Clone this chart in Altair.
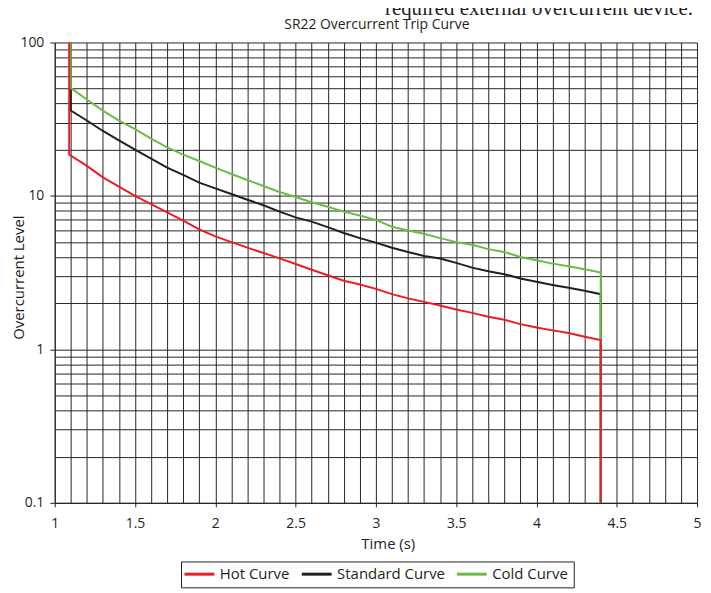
import altair as alt
import pandas as pd

title_text = "SR22 Overcurrent Trip Curve"
header_text = "required external overcurrent device."
x_title = "Time (s)"
y_title = "Overcurrent Level"

series_names = ["Hot Curve", "Standard Curve", "Cold Curve"]
series_colors = ["#ed1c24", "#231f20", "#6abd45"]
draw_order = ["Standard Curve", "Cold Curve", "Hot Curve"]

hot_t = [1.09, 1.09, 1.2, 1.3, 1.4, 1.5, 1.6, 1.7, 1.8, 1.9, 2.0, 2.1, 2.2, 2.3, 2.4,
         2.5, 2.6, 2.7, 2.8, 2.9, 3.0, 3.1, 3.2, 3.3, 3.4, 3.5, 3.6, 3.7, 3.8, 3.9,
         4.0, 4.1, 4.2, 4.3, 4.4, 4.4]
hot_v = [100, 18.6, 15.7, 13.2, 11.5, 10.0, 8.85, 7.8, 6.9, 6.05, 5.45, 5.0, 4.6, 4.25, 3.92,
         3.6, 3.3, 3.04, 2.8, 2.65, 2.48, 2.29, 2.15, 2.04, 1.93, 1.82, 1.73, 1.63, 1.56, 1.46,
         1.39, 1.33, 1.28, 1.21, 1.15, 0.1]

std_t = [1.1, 1.1, 1.2, 1.3, 1.4, 1.5, 1.6, 1.7, 1.8, 1.9, 2.0, 2.1, 2.2, 2.3, 2.4,
         2.5, 2.6, 2.7, 2.8, 2.9, 3.0, 3.1, 3.2, 3.3, 3.4, 3.5, 3.6, 3.7, 3.8, 3.9,
         4.0, 4.1, 4.2, 4.3, 4.4, 4.4]
std_v = [100, 36, 31, 26.5, 23, 20, 17.5, 15.3, 13.7, 12.2, 11.2, 10.3, 9.45, 8.7, 7.9,
         7.25, 6.8, 6.26, 5.73, 5.31, 4.96, 4.6, 4.31, 4.06, 3.91, 3.66, 3.41, 3.23, 3.09, 2.9,
         2.76, 2.63, 2.52, 2.41, 2.29, 0.1]

cold_t = [1.1, 1.1, 1.2, 1.3, 1.4, 1.5, 1.6, 1.7, 1.8, 1.9, 2.0, 2.1, 2.2, 2.3, 2.4,
          2.5, 2.6, 2.7, 2.8, 2.9, 3.0, 3.1, 3.2, 3.3, 3.4, 3.5, 3.6, 3.7, 3.8, 3.9,
          4.0, 4.1, 4.2, 4.3, 4.4, 4.4]
cold_v = [100, 50.6, 42.5, 36, 31, 27.2, 23.6, 20.7, 18.6, 16.9, 15.3, 13.9, 12.7, 11.6, 10.6,
          9.85, 9.1, 8.5, 7.9, 7.45, 6.98, 6.3, 5.96, 5.67, 5.31, 5.0, 4.81, 4.5, 4.31, 4.0,
          3.81, 3.62, 3.48, 3.33, 3.17, 0.1]

x_grid = [1.0, 1.1, 1.2, 1.3, 1.4, 1.5, 1.6, 1.7, 1.8, 1.9, 2.0, 2.1, 2.2, 2.3, 2.4, 2.5,
          2.6, 2.7, 2.8, 2.9, 3.0, 3.1, 3.2, 3.3, 3.4, 3.5, 3.6, 3.7, 3.8, 3.9, 4.0, 4.1,
          4.2, 4.3, 4.4, 4.5, 4.6, 4.7, 4.8, 4.9, 5.0]
x_labels = ["1", "1.5", "2", "2.5", "3", "3.5", "4", "4.5", "5"]
y_grid = [0.1, 0.2, 0.3, 0.4, 0.5, 0.6, 0.7, 0.8, 0.9,
          1, 2, 3, 4, 5, 6, 7, 8, 9,
          10, 20, 30, 40, 50, 60, 70, 80, 90, 100]
y_labels = ["0.1", "1", "10", "100"]

rows = []
for name, ts, vs in [("Hot Curve", hot_t, hot_v),
                     ("Standard Curve", std_t, std_v),
                     ("Cold Curve", cold_t, cold_v)]:
    for i, (t, v) in enumerate(zip(ts, vs)):
        rows.append({"series": name, "t": t, "v": v, "i": i})
df = pd.DataFrame(rows)

FONT = "Open Sans"
INK = "#231f20"
GRID = "#262626"


def lab_expr(labels):
    arr = "[" + ",".join("'" + s + "'" for s in labels) + "]"
    fmt = "format(datum.value, '.4~g')"
    return f"indexof({arr}, {fmt}) >= 0", f"indexof({arr}, {fmt}) >= 0 ? {fmt} : ''"


x_test, x_lab = lab_expr(x_labels)
y_test, y_lab = lab_expr(y_labels)

x_axis = alt.Axis(
    values=x_grid, labelExpr=x_lab, labelOverlap=False, labelFlush=False,
    labelFont=FONT, labelFontSize=14, labelColor=INK, labelPadding=10,
    tickSize=4, tickColor=INK,
    tickOpacity={"condition": {"test": x_test, "value": 1}, "value": 0},
    grid=True, gridColor=GRID, gridWidth=1, gridOpacity=1,
    domainColor=INK, domainWidth=1,
    title=x_title, titleFont=FONT, titleFontSize=15, titleFontWeight="normal",
    titleColor=INK, titleX=335, titleY=46, titleBaseline="alphabetic", titleAlign="center",
)
y_axis = alt.Axis(
    values=y_grid, labelExpr=y_lab, labelOverlap=False, labelFlush=False,
    labelFont=FONT, labelFontSize=14, labelColor=INK, labelPadding=6,
    tickSize=5, tickColor=INK,
    tickOpacity={"condition": {"test": y_test, "value": 1}, "value": 0},
    grid=True, gridColor=GRID, gridWidth=1, gridOpacity=1,
    domainColor=INK, domainWidth=1,
    title=y_title, titleFont=FONT, titleFontSize=15, titleFontWeight="normal",
    titleColor=INK, titleX=-36, titleY=236, titleAngle=270, titleAlign="center",
    titleBaseline="middle",
)

x_scale = alt.Scale(domain=[1, 5], nice=False, zero=False)
y_scale = alt.Scale(type="log", domain=[0.1, 100], nice=False)
color_scale = alt.Scale(domain=series_names, range=series_colors)
legend = alt.Legend(
    orient="none", legendX=127, legendY=522, direction="horizontal", title=None,
    symbolType="M-1.8,0H4.2", symbolStrokeWidth=3, symbolSize=100,
    labelFont=FONT, labelFontSize=15, labelColor=INK, labelOffset=19,
    columnPadding=5, padding=5, strokeColor=INK,
)

base = alt.Chart(df)


def series_layer(name):
    return base.transform_filter(alt.datum.series == name).mark_line(
        strokeWidth=2, strokeJoin="miter"
    ).encode(
        x=alt.X("t:Q", scale=x_scale, axis=x_axis),
        y=alt.Y("v:Q", scale=y_scale, axis=y_axis),
        color=alt.Color("series:N", scale=color_scale, legend=legend),
        order=alt.Order("i:Q"),
    )


layers = [series_layer(n) for n in draw_order]

header = alt.Chart(pd.DataFrame({"txt": [header_text]})).mark_text(
    align="right", baseline="alphabetic", font="Liberation Serif", fontSize=21, color=INK
).encode(x=alt.value(642), y=alt.value(-28), text="txt:N")

title_mark = alt.Chart(pd.DataFrame({"txt": [title_text]})).mark_text(
    align="center", baseline="alphabetic", font=FONT, fontSize=14, color=INK
).encode(x=alt.value(324), y=alt.value(-14), text="txt:N")

chart = alt.layer(*layers, header, title_mark).properties(
    width=646,
    height=463,
    autosize=alt.AutoSizeParams(type="none"),
    padding={"left": 47, "top": 33, "right": 6, "bottom": 85},
).configure_view(stroke=None)

chart.save("out.html", embed_options={"renderer": "svg", "actions": False})
